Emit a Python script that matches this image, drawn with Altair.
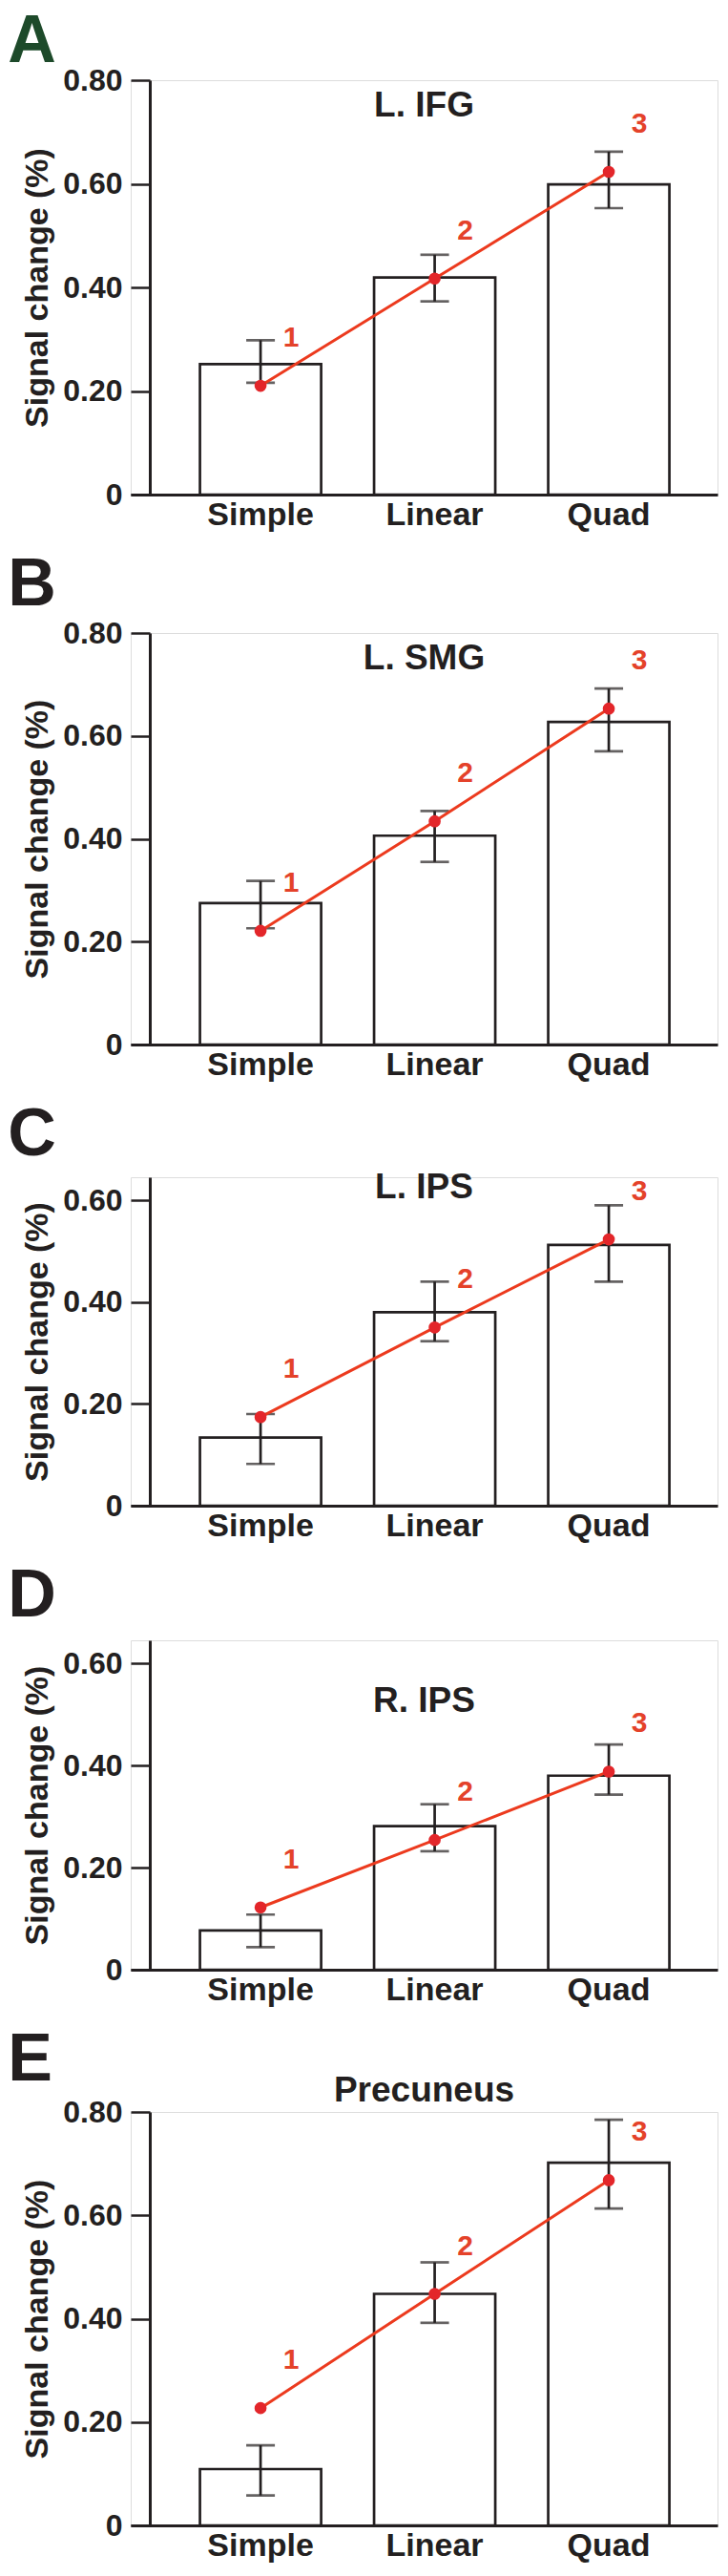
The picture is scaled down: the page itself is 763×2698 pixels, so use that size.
import altair as alt
import pandas as pd

categories = ["Simple", "Linear", "Quad"]
point_labels = ["1", "2", "3"]

panel_letters = ["A", "B", "C", "D", "E"]
panel_titles = ["L. IFG", "L. SMG", "L. IPS", "R. IPS", "Precuneus"]

bar_A = [0.252, 0.419, 0.599]
lo_A = [0.216, 0.373, 0.553]
hi_A = [0.298, 0.463, 0.662]
dot_A = [0.210, 0.417, 0.623]

bar_B = [0.275, 0.406, 0.627]
lo_B = [0.226, 0.355, 0.570]
hi_B = [0.318, 0.454, 0.692]
dot_B = [0.221, 0.434, 0.653]

bar_C = [0.134, 0.380, 0.512]
lo_C = [0.082, 0.323, 0.440]
hi_C = [0.180, 0.440, 0.590]
dot_C = [0.174, 0.350, 0.523]

bar_D = [0.077, 0.281, 0.380]
lo_D = [0.044, 0.232, 0.343]
hi_D = [0.108, 0.324, 0.441]
dot_D = [0.122, 0.254, 0.388]

bar_E = [0.109, 0.448, 0.702]
lo_E = [0.058, 0.392, 0.613]
hi_E = [0.155, 0.509, 0.785]
dot_E = [0.227, 0.448, 0.668]

y_max = [0.8, 0.8, 0.645, 0.645, 0.8]
y_ticks_long = [0, 0.2, 0.4, 0.6, 0.8]
y_ticks_short = [0, 0.2, 0.4, 0.6]

series = [
    (bar_A, lo_A, hi_A, dot_A),
    (bar_B, lo_B, hi_B, dot_B),
    (bar_C, lo_C, hi_C, dot_C),
    (bar_D, lo_D, hi_D, dot_D),
    (bar_E, lo_E, hi_E, dot_E),
]

FONT = "Liberation Sans"
INK = "#231f20"
RED_DOT = "#e3262a"
RED_LINE = "#ec3a1e"
RED_TEXT = "#e4422a"
LETTER_COLORS = ["#1d4a2a", INK, INK, INK, INK]

PLOT_W = 615
HEIGHTS = [434, 431, 344, 345, 433]
TITLE_OFFSETS = [-62, -62, -30, -83, -13]
LETTER_OFFSETS = [-12, -2, 0, 10, -23]

panels = []
for i in range(5):
    bar, lo, hi, dot = series[i]
    df = pd.DataFrame({
        "cat": categories,
        "bar": bar,
        "lo": lo,
        "hi": hi,
        "dot": dot,
        "lab": point_labels,
    })
    ticks = y_ticks_long if y_max[i] >= 0.8 else y_ticks_short
    xenc = alt.X(
        "cat:N",
        sort=categories,
        scale=alt.Scale(paddingInner=0.304, paddingOuter=0.337, align=0.59),
        axis=alt.Axis(
            title=None, ticks=False, labelAngle=0, domainWidth=3, domainColor=INK,
            labelFont=FONT, labelFontSize=34, labelFontWeight="bold", labelColor=INK,
            labelPadding=4,
        ),
    )
    yscale = alt.Scale(domain=[0, y_max[i]], nice=False, zero=True)
    yaxis = alt.Axis(
        title="Signal change (%)", values=ticks, grid=False,
        labelExpr="datum.value == 0 ? '0' : format(datum.value, '.2f')",
        offset=-20, tickSize=20, tickWidth=2.5, tickColor=INK,
        domainWidth=3, domainColor=INK,
        labelFont=FONT, labelFontSize=32, labelFontWeight="bold", labelColor=INK,
        labelPadding=9,
        titleFont=FONT, titleFontSize=34, titleFontWeight="bold", titleColor=INK,
        titlePadding=9,
    )
    base = alt.Chart(df)
    bars = base.mark_bar(fill="white", stroke=INK, strokeWidth=2.7).encode(
        x=xenc, y=alt.Y("bar:Q", scale=yscale, axis=yaxis)
    )
    err = base.mark_rule(color=INK, strokeWidth=2.7).encode(
        x=alt.X("cat:N", sort=categories), y="lo:Q", y2="hi:Q"
    )
    cap_lo = base.mark_tick(color=INK, thickness=2.7, size=30, orient="horizontal").encode(
        x=alt.X("cat:N", sort=categories), y="lo:Q"
    )
    cap_hi = base.mark_tick(color=INK, thickness=2.7, size=30, orient="horizontal").encode(
        x=alt.X("cat:N", sort=categories), y="hi:Q"
    )
    line = base.mark_line(color=RED_LINE, strokeWidth=3).encode(
        x=alt.X("cat:N", sort=categories), y="dot:Q"
    )
    pts = base.mark_circle(color=RED_DOT, size=160, opacity=1).encode(
        x=alt.X("cat:N", sort=categories), y="dot:Q"
    )
    labs = base.mark_text(
        color=RED_TEXT, font=FONT, fontSize=30, fontWeight="bold", dx=32, dy=-50
    ).encode(x=alt.X("cat:N", sort=categories), y="dot:Q", text="lab:N")

    layer = alt.layer(bars, err, cap_lo, cap_hi, line, pts, labs).properties(
        width=PLOT_W,
        height=HEIGHTS[i],
        title=alt.TitleParams(
            panel_titles[i], anchor="middle", frame="group", font=FONT, fontSize=37,
            fontWeight="bold", color=INK, offset=TITLE_OFFSETS[i],
        ),
    )
    panel = alt.vconcat(
        layer,
        title=alt.TitleParams(
            panel_letters[i], anchor="start", frame="bounds", font=FONT, fontSize=70,
            fontWeight="bold", color=LETTER_COLORS[i], offset=LETTER_OFFSETS[i],
            dx=-14,
        ),
    )
    panels.append(panel)

chart = alt.vconcat(*panels, spacing=20).properties(
    padding={"left": 0, "top": 0, "right": 0, "bottom": 0}
).configure_view(stroke=None).configure(background="white")

chart.save("out.html", embed_options={"renderer": "svg", "actions": False})
